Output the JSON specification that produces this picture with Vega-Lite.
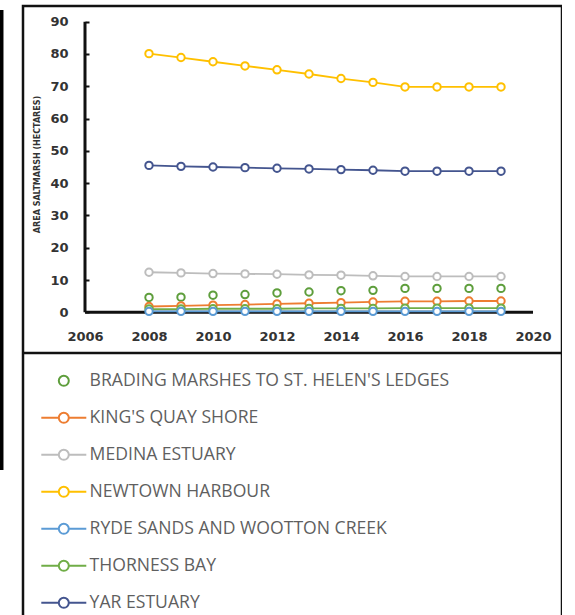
{
  "$schema": "https://vega.github.io/schema/vega-lite/v6.json",
  "width": 539,
  "height": 612,
  "autosize": "none",
  "padding": {"left": 23, "top": 6, "right": 0, "bottom": 0},
  "background": "white",
  "config": {"view": {"stroke": "#111111", "strokeWidth": 2.5}},
  "datasets": {
    "series": [
      {"year": 2008, "site": "NEWTOWN HARBOUR", "value": 80.1},
      {"year": 2009, "site": "NEWTOWN HARBOUR", "value": 78.9},
      {"year": 2010, "site": "NEWTOWN HARBOUR", "value": 77.6},
      {"year": 2011, "site": "NEWTOWN HARBOUR", "value": 76.3},
      {"year": 2012, "site": "NEWTOWN HARBOUR", "value": 75.1},
      {"year": 2013, "site": "NEWTOWN HARBOUR", "value": 73.8},
      {"year": 2014, "site": "NEWTOWN HARBOUR", "value": 72.4},
      {"year": 2015, "site": "NEWTOWN HARBOUR", "value": 71.2},
      {"year": 2016, "site": "NEWTOWN HARBOUR", "value": 69.8},
      {"year": 2017, "site": "NEWTOWN HARBOUR", "value": 69.8},
      {"year": 2018, "site": "NEWTOWN HARBOUR", "value": 69.8},
      {"year": 2019, "site": "NEWTOWN HARBOUR", "value": 69.8},
      {"year": 2008, "site": "YAR ESTUARY", "value": 45.5},
      {"year": 2009, "site": "YAR ESTUARY", "value": 45.2},
      {"year": 2010, "site": "YAR ESTUARY", "value": 45.0},
      {"year": 2011, "site": "YAR ESTUARY", "value": 44.8},
      {"year": 2012, "site": "YAR ESTUARY", "value": 44.6},
      {"year": 2013, "site": "YAR ESTUARY", "value": 44.4},
      {"year": 2014, "site": "YAR ESTUARY", "value": 44.2},
      {"year": 2015, "site": "YAR ESTUARY", "value": 44.0},
      {"year": 2016, "site": "YAR ESTUARY", "value": 43.7},
      {"year": 2017, "site": "YAR ESTUARY", "value": 43.7},
      {"year": 2018, "site": "YAR ESTUARY", "value": 43.7},
      {"year": 2019, "site": "YAR ESTUARY", "value": 43.7},
      {"year": 2008, "site": "MEDINA ESTUARY", "value": 12.4},
      {"year": 2009, "site": "MEDINA ESTUARY", "value": 12.2},
      {"year": 2010, "site": "MEDINA ESTUARY", "value": 12.0},
      {"year": 2011, "site": "MEDINA ESTUARY", "value": 11.9},
      {"year": 2012, "site": "MEDINA ESTUARY", "value": 11.8},
      {"year": 2013, "site": "MEDINA ESTUARY", "value": 11.6},
      {"year": 2014, "site": "MEDINA ESTUARY", "value": 11.5},
      {"year": 2015, "site": "MEDINA ESTUARY", "value": 11.3},
      {"year": 2016, "site": "MEDINA ESTUARY", "value": 11.1},
      {"year": 2017, "site": "MEDINA ESTUARY", "value": 11.1},
      {"year": 2018, "site": "MEDINA ESTUARY", "value": 11.1},
      {"year": 2019, "site": "MEDINA ESTUARY", "value": 11.1},
      {"year": 2008, "site": "BRADING MARSHES TO ST. HELEN'S LEDGES", "value": 4.6},
      {"year": 2009, "site": "BRADING MARSHES TO ST. HELEN'S LEDGES", "value": 4.7},
      {"year": 2010, "site": "BRADING MARSHES TO ST. HELEN'S LEDGES", "value": 5.3},
      {"year": 2011, "site": "BRADING MARSHES TO ST. HELEN'S LEDGES", "value": 5.5},
      {"year": 2012, "site": "BRADING MARSHES TO ST. HELEN'S LEDGES", "value": 6.0},
      {"year": 2013, "site": "BRADING MARSHES TO ST. HELEN'S LEDGES", "value": 6.3},
      {"year": 2014, "site": "BRADING MARSHES TO ST. HELEN'S LEDGES", "value": 6.7},
      {"year": 2015, "site": "BRADING MARSHES TO ST. HELEN'S LEDGES", "value": 6.8},
      {"year": 2016, "site": "BRADING MARSHES TO ST. HELEN'S LEDGES", "value": 7.4},
      {"year": 2017, "site": "BRADING MARSHES TO ST. HELEN'S LEDGES", "value": 7.4},
      {"year": 2018, "site": "BRADING MARSHES TO ST. HELEN'S LEDGES", "value": 7.4},
      {"year": 2019, "site": "BRADING MARSHES TO ST. HELEN'S LEDGES", "value": 7.4},
      {"year": 2008, "site": "KING'S QUAY SHORE", "value": 1.8},
      {"year": 2009, "site": "KING'S QUAY SHORE", "value": 2.0},
      {"year": 2010, "site": "KING'S QUAY SHORE", "value": 2.2},
      {"year": 2011, "site": "KING'S QUAY SHORE", "value": 2.4},
      {"year": 2012, "site": "KING'S QUAY SHORE", "value": 2.6},
      {"year": 2013, "site": "KING'S QUAY SHORE", "value": 2.8},
      {"year": 2014, "site": "KING'S QUAY SHORE", "value": 3.0},
      {"year": 2015, "site": "KING'S QUAY SHORE", "value": 3.2},
      {"year": 2016, "site": "KING'S QUAY SHORE", "value": 3.4},
      {"year": 2017, "site": "KING'S QUAY SHORE", "value": 3.4},
      {"year": 2018, "site": "KING'S QUAY SHORE", "value": 3.5},
      {"year": 2019, "site": "KING'S QUAY SHORE", "value": 3.5},
      {"year": 2008, "site": "THORNESS BAY", "value": 1.0},
      {"year": 2009, "site": "THORNESS BAY", "value": 1.0},
      {"year": 2010, "site": "THORNESS BAY", "value": 1.1},
      {"year": 2011, "site": "THORNESS BAY", "value": 1.1},
      {"year": 2012, "site": "THORNESS BAY", "value": 1.1},
      {"year": 2013, "site": "THORNESS BAY", "value": 1.2},
      {"year": 2014, "site": "THORNESS BAY", "value": 1.2},
      {"year": 2015, "site": "THORNESS BAY", "value": 1.2},
      {"year": 2016, "site": "THORNESS BAY", "value": 1.3},
      {"year": 2017, "site": "THORNESS BAY", "value": 1.3},
      {"year": 2018, "site": "THORNESS BAY", "value": 1.3},
      {"year": 2019, "site": "THORNESS BAY", "value": 1.3},
      {"year": 2008, "site": "RYDE SANDS AND WOOTTON CREEK", "value": 0.3},
      {"year": 2009, "site": "RYDE SANDS AND WOOTTON CREEK", "value": 0.3},
      {"year": 2010, "site": "RYDE SANDS AND WOOTTON CREEK", "value": 0.3},
      {"year": 2011, "site": "RYDE SANDS AND WOOTTON CREEK", "value": 0.3},
      {"year": 2012, "site": "RYDE SANDS AND WOOTTON CREEK", "value": 0.3},
      {"year": 2013, "site": "RYDE SANDS AND WOOTTON CREEK", "value": 0.3},
      {"year": 2014, "site": "RYDE SANDS AND WOOTTON CREEK", "value": 0.3},
      {"year": 2015, "site": "RYDE SANDS AND WOOTTON CREEK", "value": 0.3},
      {"year": 2016, "site": "RYDE SANDS AND WOOTTON CREEK", "value": 0.3},
      {"year": 2017, "site": "RYDE SANDS AND WOOTTON CREEK", "value": 0.3},
      {"year": 2018, "site": "RYDE SANDS AND WOOTTON CREEK", "value": 0.3},
      {"year": 2019, "site": "RYDE SANDS AND WOOTTON CREEK", "value": 0.3}
    ],
    "axislines": [
      {"year": 2006, "year2": 2006, "value": 0, "value2": 90},
      {"year": 2006, "year2": 2020, "value": 0, "value2": 0}
    ],
    "divider": [{"value": -12.6}],
    "edge": [{"year": 2003.39, "value": 93.6, "value2": -48.8}]
  },
  "layer": [
    {
      "data": {"name": "axislines"},
      "mark": {"type": "rule", "color": "#111111", "strokeWidth": 3},
      "encoding": {
        "x": {
          "field": "year", "type": "quantitative",
          "scale": {"domain": [2004.0625, 2020.906], "nice": false, "zero": false},
          "axis": {
            "values": [2006, 2008, 2010, 2012, 2014, 2016, 2018, 2020],
            "format": "d", "offset": -305.7, "domain": false, "ticks": false, "grid": false,
            "labelPadding": 18, "labelFont": "DejaVu Sans", "labelFontWeight": "bold",
            "labelFontSize": 13, "labelColor": "#333333", "title": null, "labelFlush": false
          }
        },
        "x2": {"field": "year2"},
        "y": {
          "field": "value", "type": "quantitative",
          "scale": {"domain": [-94.67, 94.86], "nice": false, "zero": false},
          "axis": {
            "values": [0, 10, 20, 30, 40, 50, 60, 70, 80, 90],
            "offset": -62, "domain": false, "ticks": true, "tickSize": -4, "tickWidth": 2,
            "tickColor": "#111111", "grid": false,
            "labelPadding": 21, "labelFont": "DejaVu Sans", "labelFontWeight": "bold",
            "labelFontSize": 13, "labelColor": "#333333",
            "title": "AREA SALTMARSH (HECTARES)", "titleFont": "DejaVu Sans",
            "titleFontSize": 8, "titleFontWeight": "bold", "titleColor": "#333333",
            "titlePadding": 8, "titleY": 158
          }
        },
        "y2": {"field": "value2"}
      }
    },
    {
      "data": {"name": "divider"},
      "mark": {"type": "rule", "color": "#111111", "strokeWidth": 2.5},
      "encoding": {
        "y": {"field": "value", "type": "quantitative"}
      }
    },
    {
      "data": {"name": "edge"},
      "mark": {"type": "rule", "color": "#000000", "strokeWidth": 4, "clip": false},
      "encoding": {
        "x": {"field": "year", "type": "quantitative"},
        "y": {"field": "value", "type": "quantitative"},
        "y2": {"field": "value2"}
      }
    },
    {
      "data": {"name": "series"},
      "transform": [{"filter": "indexof(datum.site, 'BRADING') < 0"}],
      "mark": {"type": "line", "strokeWidth": 1.8},
      "encoding": {
        "x": {"field": "year", "type": "quantitative"},
        "y": {"field": "value", "type": "quantitative"},
        "color": {
          "field": "site", "type": "nominal",
          "scale": {
            "domain": ["BRADING MARSHES TO ST. HELEN'S LEDGES", "KING'S QUAY SHORE", "MEDINA ESTUARY", "NEWTOWN HARBOUR", "RYDE SANDS AND WOOTTON CREEK", "THORNESS BAY", "YAR ESTUARY"],
            "range": ["#5E9E3C", "#ED7D31", "#BDBDBD", "#FFC000", "#5B9BD5", "#70AD47", "#44558F"]
          }
        }
      }
    },
    {
      "data": {"name": "series"},
      "mark": {"type": "point", "filled": false, "fill": "white", "strokeWidth": 2, "size": 0, "opacity": 0},
      "encoding": {
        "x": {"field": "year", "type": "quantitative"},
        "y": {"field": "value", "type": "quantitative"},
        "shape": {
          "field": "site", "type": "nominal",
          "scale": {
            "domain": ["BRADING MARSHES TO ST. HELEN'S LEDGES", "KING'S QUAY SHORE", "MEDINA ESTUARY", "NEWTOWN HARBOUR", "RYDE SANDS AND WOOTTON CREEK", "THORNESS BAY", "YAR ESTUARY"],
            "range": [
              "M0.833,0A0.833,0.833,0,1,1,-0.833,0A0.833,0.833,0,1,1,0.833,0Z",
              "M-3.75,0L-0.833,0M0.833,0L3.75,0M0.833,0A0.833,0.833,0,1,1,-0.833,0A0.833,0.833,0,1,1,0.833,0Z",
              "M-3.75,0L-0.833,0M0.833,0L3.75,0M0.833,0A0.833,0.833,0,1,1,-0.833,0A0.833,0.833,0,1,1,0.833,0Z",
              "M-3.75,0L-0.833,0M0.833,0L3.75,0M0.833,0A0.833,0.833,0,1,1,-0.833,0A0.833,0.833,0,1,1,0.833,0Z",
              "M-3.75,0L-0.833,0M0.833,0L3.75,0M0.833,0A0.833,0.833,0,1,1,-0.833,0A0.833,0.833,0,1,1,0.833,0Z",
              "M-3.75,0L-0.833,0M0.833,0L3.75,0M0.833,0A0.833,0.833,0,1,1,-0.833,0A0.833,0.833,0,1,1,0.833,0Z",
              "M-3.75,0L-0.833,0M0.833,0L3.75,0M0.833,0A0.833,0.833,0,1,1,-0.833,0A0.833,0.833,0,1,1,0.833,0Z"
            ]
          },
          "legend": {
            "orient": "none", "legendX": 32, "legendY": 366, "title": null,
            "symbolSize": 144, "symbolStrokeWidth": 2, "padding": 0,
            "labelFont": "Open Sans", "labelFontSize": 17.6, "labelColor": "#5f5f5f",
            "labelOffset": 17, "rowPadding": 18, "labelLimit": 500
          }
        }
      }
    },
    {
      "data": {"name": "series"},
      "mark": {"type": "point", "shape": "circle", "filled": false, "fill": "white", "strokeWidth": 2, "size": 55, "opacity": 1},
      "encoding": {
        "x": {"field": "year", "type": "quantitative"},
        "y": {"field": "value", "type": "quantitative"},
        "color": {
          "field": "site", "type": "nominal",
          "legend": {
            "orient": "none", "legendX": 32, "legendY": 366, "title": null,
            "symbolSize": 144, "symbolStrokeWidth": 2, "padding": 0,
            "labelFont": "Open Sans", "labelFontSize": 17.6, "labelColor": "#5f5f5f",
            "labelOffset": 17, "rowPadding": 18, "labelLimit": 500,
            "encode": {
              "symbols": {
                "update": {
                  "fill": {"value": "white"},
                  "stroke": {"scale": "color", "field": "value"},
                  "strokeWidth": {"value": 2},
                  "opacity": {"value": 1}
                }
              }
            }
          }
        }
      }
    }
  ]
}
